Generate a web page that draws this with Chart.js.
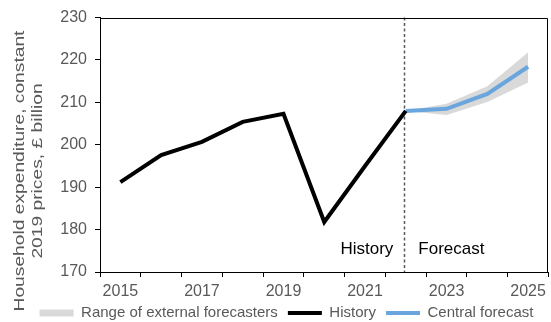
<!DOCTYPE html>
<html>
<head>
<meta charset="utf-8">
<script src="https://cdn.jsdelivr.net/npm/chart.js@4.4.1/dist/chart.umd.min.js"></script>
<style>
  html, body { margin: 0; padding: 0; background: #ffffff; }
  canvas { display: block; }
</style>
</head>
<body>
<canvas id="chart" width="551" height="322"></canvas>
<script>
// ---- data ----
const years = ['2015','2016','2017','2018','2019','2020','2021','2022','2023','2024','2025'];
const tickLabels = ['2015','','2017','','2019','','2021','','2023','','2025'];
const historyValues = [191.2, 197.6, 200.7, 205.4, 207.3, 181.8, 195.0, 208.0, null, null, null];
const centralForecast = [null, null, null, null, null, null, null, 208.0, 208.5, 212.0, 218.4];
const rangeLow  = [null, null, null, null, null, null, null, 208.0, 207.0, 210.1, 214.7];
const rangeHigh = [null, null, null, null, null, null, null, 208.0, 209.7, 213.8, 221.8];
const yMin = 170, yMax = 230, yStep = 10;
const yTitleLines = ['Household expenditure, constant', '2019 prices, £ billion'];
const periodLabels = ['History', 'Forecast'];
const splitIndex = 7; // 2022

const FONT = "'Liberation Sans', Arial, sans-serif";
const GREY_TEXT = '#595959';

const decorPlugin = {
  id: 'decor',
  afterLayout(chart) {
    // nudge legend to its place under the axis
    const lg = chart.legend;
    lg.left += 12; lg.right += 12;
    lg.top -= 6.5; lg.bottom -= 6.5;
  },
  beforeDatasetsDraw(chart) {
    const { ctx, chartArea: a, scales } = chart;
    const x = Math.round(scales.x.getPixelForValue(splitIndex)) - 1.5;
    ctx.save();
    ctx.strokeStyle = '#595959';
    ctx.lineWidth = 1.5;
    ctx.setLineDash([3, 2.5]);
    ctx.beginPath();
    ctx.moveTo(x, a.top);
    ctx.lineTo(x, a.bottom);
    ctx.stroke();
    ctx.restore();
  },
  afterDraw(chart) {
    const { ctx, chartArea: a, scales } = chart;
    ctx.save();
    // frame top/right
    ctx.strokeStyle = '#000000';
    ctx.lineWidth = 1;
    ctx.beginPath();
    ctx.moveTo(Math.round(a.left) + 0.5, Math.round(a.top) + 0.5);
    ctx.lineTo(Math.round(a.right) - 0.5, Math.round(a.top) + 0.5);
    ctx.lineTo(Math.round(a.right) - 0.5, Math.round(a.bottom));
    ctx.stroke();

    // History / Forecast labels
    const xs = scales.x.getPixelForValue(splitIndex) - 1.5;
    ctx.fillStyle = '#000000';
    ctx.font = '17px ' + FONT;
    ctx.textBaseline = 'middle';
    ctx.textAlign = 'right';
    ctx.fillText(periodLabels[0], xs - 11, a.bottom - 23);
    ctx.textAlign = 'left';
    ctx.fillText(periodLabels[1], xs + 14, a.bottom - 23);

    // y axis title (two lines, rotated)
    ctx.fillStyle = GREY_TEXT;
    ctx.font = '14.5px ' + FONT;
    ctx.textAlign = 'center';
    ctx.textBaseline = 'middle';
    const cy = 171;
    const xsTitle = [19.5, 38];
    yTitleLines.forEach((line, i) => {
      ctx.save();
      ctx.translate(xsTitle[i], cy);
      ctx.rotate(-Math.PI / 2);
      ctx.scale(1.325, 1);
      ctx.fillText(line, 0, 0);
      ctx.restore();
    });
    ctx.restore();
  }
};

new Chart(document.getElementById('chart'), {
  type: 'line',
  data: {
    labels: years,
    datasets: [
      {
        label: 'Range of external forecasters',
        data: rangeHigh,
        borderWidth: 0,
        borderColor: 'rgba(0,0,0,0)',
        backgroundColor: '#d9d9d9',
        pointRadius: 0,
        pointStyle: 'rect',
        pointBackgroundColor: '#d9d9d9',
        pointBorderWidth: 0,
        fill: '+1'
      },
      {
        label: 'rangeLow',
        data: rangeLow,
        borderWidth: 0,
        borderColor: 'rgba(0,0,0,0)',
        backgroundColor: '#d9d9d9',
        pointRadius: 0,
        fill: false
      },
      {
        label: 'History',
        data: historyValues,
        borderColor: '#000000',
        backgroundColor: '#000000',
        borderWidth: 4,
        pointRadius: 0,
        pointStyle: 'line',
        pointBorderColor: '#000000',
        pointBorderWidth: 4,
        borderJoinStyle: 'miter',
        fill: false
      },
      {
        label: 'Central forecast',
        data: centralForecast,
        borderColor: '#6aa5dd',
        backgroundColor: '#6aa5dd',
        borderWidth: 4,
        pointRadius: 0,
        pointStyle: 'line',
        pointBorderColor: '#6aa5dd',
        pointBorderWidth: 4,
        fill: false
      }
    ]
  },
  options: {
    responsive: false,
    animation: false,
    devicePixelRatio: 1,
    layout: { padding: { top: 16, right: 2, left: 0, bottom: -15 } },
    plugins: {
      filler: { drawTime: 'beforeDatasetsDraw' },
      tooltip: { enabled: false },
      legend: {
        position: 'bottom',
        align: 'center',
        labels: {
          font: { family: FONT, size: 15 },
          color: GREY_TEXT,
          usePointStyle: true,
          pointStyleWidth: 34,
          boxHeight: 7,
          padding: 10,
          filter: (item) => item.text !== 'rangeLow'
        }
      }
    },
    scales: {
      x: {
        type: 'category',
        offset: true,
        afterFit: (s) => { s.height = 30; },
        grid: {
          offset: true,
          drawOnChartArea: false,
          drawTicks: true,
          tickLength: 5,
          color: '#000000'
        },
        border: { display: true, color: '#000000', width: 1 },
        ticks: {
          autoSkip: false,
          maxRotation: 0,
          minRotation: 0,
          padding: 5,
          color: GREY_TEXT,
          font: { family: FONT, size: 16 },
          callback: (v, i) => tickLabels[i]
        }
      },
      y: {
        min: yMin,
        max: yMax,
        afterFit: (s) => { s.width = 100; },
        grid: {
          drawOnChartArea: false,
          drawTicks: true,
          tickLength: 5,
          color: '#000000'
        },
        border: { display: true, color: '#000000', width: 1 },
        ticks: {
          stepSize: yStep,
          padding: 8,
          color: GREY_TEXT,
          font: { family: FONT, size: 16 }
        }
      }
    }
  },
  plugins: [decorPlugin]
});
</script>
</body>
</html>
